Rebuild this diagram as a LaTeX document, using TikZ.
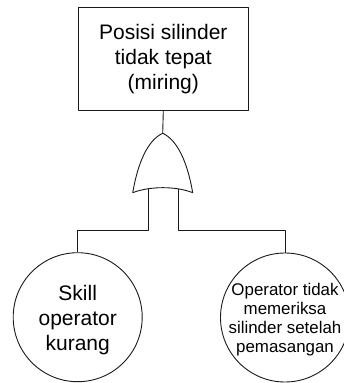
\documentclass[tikz,border=0pt]{standalone}
\usepackage{fontspec}
\setmainfont{Liberation Sans}
\usepackage{xcolor}
\usetikzlibrary{calc}
\definecolor{bg}{HTML}{FFFFFF}
\definecolor{ink}{HTML}{000000}
\definecolor{edge}{HTML}{1A1A1A}
\tikzset{
  base/.style={draw=edge, line width=0.9pt, line join=round},
  topbox/.style={base, rectangle, minimum width=170pt, minimum height=102.7pt, inner sep=0pt},
  evt/.style={base, circle, minimum size=129pt, inner sep=0pt},
  labbig/.style={text=ink, align=center, font=\fontsize{21}{25}\selectfont},
  labsmall/.style={text=ink, align=center, font=\fontsize{16.9}{19}\selectfont}
}
\begin{document}
\begin{tikzpicture}[x=1pt, y=-1pt]
  \useasboundingbox[fill=bg] (0,0) rectangle (343,383);
  % top event
  \node[topbox, labbig] (top) at (163.3,58.7) {Posisi silinder\\tidak tepat\\(miring)};
  % or gate
  \coordinate (gtop) at (162.7,133.3);
  \coordinate (gl) at (132.7,192.7);
  \coordinate (gr) at (192.7,192.7);
  \coordinate (ina) at (148,189.3);
  \coordinate (inb) at (178,189.3);
  \draw[base] (gl) .. controls (138,162) and (148,140) .. (gtop)
    .. controls (177.4,140) and (187.4,162) .. (gr)
    .. controls (176,186) and (150,186) .. cycle;
  % basic events
  \node[evt] (skill) at (77.7,317.2) {};
  \node[labbig] at ($(skill)+(0,3)$) {Skill\\operator\\kurang};
  \node[evt] (check) at (285,317.5) {};
  \node[labsmall] at ($(check)+(0,2.3)$) {Operator tidak\\memeriksa\\silinder setelah\\pemasangan};
  % connectors
  \coordinate (busa) at (148,230.5);
  \coordinate (busb) at (178,230.5);
  \draw[base] (top.south) -- (gtop);
  \draw[base] (ina) -- (busa) -| (skill.north);
  \draw[base] (inb) -- (busb) -| (check.north);
\end{tikzpicture}
\end{document}
